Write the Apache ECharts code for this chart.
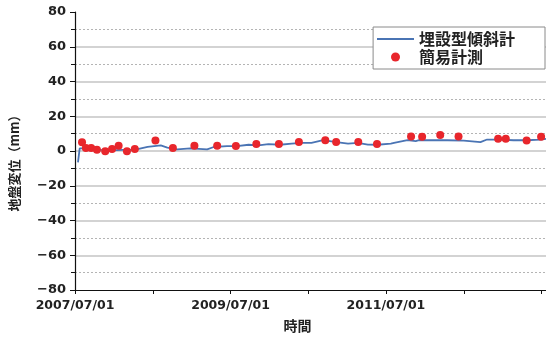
<!DOCTYPE html>
<html>
<head>
<meta charset="utf-8">
<script src="https://cdn.jsdelivr.net/npm/echarts@6/dist/echarts.min.js"></script>
<style>
html,body{margin:0;padding:0;background:#fff;}
#chart{width:546px;height:338px;}
</style>
</head>
<body>
<div id="chart"></div>
<script>
// ---- data ----
const seriesNames = ['埋設型傾斜計', '簡易計測'];
const yTicks = [-80, -60, -40, -20, 0, 20, 40, 60, 80];
const xTickDates = ['2007-07-01', '2008-07-01', '2009-07-01', '2010-07-01', '2011-07-01', '2012-07-01', '2013-07-01'];
const xLabelDates = ['2007-07-01', '2009-07-01', '2011-07-01'];

const lineDates = ['2007-07-15','2007-07-23','2007-08-31','2007-11-01','2007-12-17','2008-02-10','2008-04-05','2008-06-06','2008-08-07','2008-09-07','2008-10-23','2008-12-24','2009-03-13','2009-04-13','2009-06-14','2009-07-31','2009-09-24','2009-11-09','2009-12-26','2010-02-18','2010-04-14','2010-05-30','2010-07-16','2010-09-09','2010-11-10','2011-01-04','2011-02-19','2011-04-07','2011-05-23','2011-07-24','2011-08-08','2011-10-10','2011-11-18','2011-12-03','2012-01-27','2012-04-14','2012-07-01','2012-09-17','2012-10-18','2012-12-19','2013-02-19','2013-04-23','2013-06-24','2013-07-22'];
const lineValues = [-6.6,1.5,1.5,0.6,0.4,0.6,0.6,2.4,3.2,1.9,0.9,1.5,0.9,2.3,2.8,2.8,3.6,3.2,4.0,3.6,4.3,4.7,4.7,6.2,5.1,4.3,4.7,3.7,3.6,4.3,4.7,6.2,5.7,6.2,6.2,6.2,6.0,5.1,6.6,6.6,6.2,6.2,6.6,7.0];

const dotDates = ['2007-08-03','2007-08-21','2007-09-15','2007-10-12','2007-11-20','2007-12-22','2008-01-22','2008-03-01','2008-04-07','2008-07-13','2008-10-03','2009-01-12','2009-04-29','2009-07-26','2009-10-30','2010-02-13','2010-05-18','2010-09-19','2010-11-09','2011-02-21','2011-05-20','2011-10-27','2011-12-18','2012-03-12','2012-06-06','2012-12-09','2013-01-14','2013-04-22','2013-06-29'];
const dotValues = [5.1,1.7,1.7,0.7,-0.2,1.1,3.0,-0.2,1.1,6.0,1.7,3.0,3.0,2.9,4.0,4.0,5.2,6.2,5.2,5.2,4.0,8.4,8.2,9.2,8.4,7.0,7.0,6.1,8.2];

// ---- chart ----
function toTime(s){ const p = s.split('-'); return Date.UTC(+p[0], +p[1]-1, +p[2]); }
function fmt(v){
  const d = new Date(v);
  const pad = n => (n < 10 ? '0' : '') + n;
  return d.getUTCFullYear() + '/' + pad(d.getUTCMonth()+1) + '/' + pad(d.getUTCDate());
}
const chart = echarts.init(document.getElementById('chart'), null, {renderer:'canvas'});
const numFont = 'DejaVu Sans';
const jpFont = 'Noto Sans CJK JP';
chart.setOption({
  animation: false,
  backgroundColor: '#fff',
  grid: {left: 72, right: 0, top: 12, bottom: 44, containLabel: false},
  legend: {
    orient: 'vertical', right: 1, top: 27,
    backgroundColor: '#fff', borderColor: '#8a8a8a', borderWidth: 1,
    padding: [4, 30, 4, 3],
    itemWidth: 37, itemHeight: 9, itemGap: 2,
    textStyle: {fontFamily: jpFont, fontSize: 16, fontWeight: 'bold', color: '#222', lineHeight: 16},
    data: [
      {name: seriesNames[0], itemStyle: {opacity: 0}, lineStyle: {color: '#4a74b4', width: 1.8}},
      {name: seriesNames[1], icon: 'circle'}
    ]
  },
  xAxis: {
    type: 'value',
    min: toTime('2007-07-01'), max: toTime('2013-07-22'),
    name: '時間', nameLocation: 'middle', nameGap: 29,
    nameTextStyle: {fontFamily: jpFont, fontSize: 14, fontWeight: 'bold', color: '#222', padding: [0, 26, 0, 0]},
    axisLine: {show: true, onZero: false, lineStyle: {color: '#111', width: 1.2}},
    axisTick: {show: true, length: 4, lineStyle: {color: '#111'}, customValues: xTickDates.map(toTime)},
    axisLabel: {
      show: true, margin: 9, color: '#222', fontFamily: numFont, fontSize: 12.5, fontWeight: 'bold',
      customValues: xLabelDates.map(toTime),
      formatter: v => fmt(v)
    },
    splitLine: {show: false}
  },
  yAxis: {
    type: 'value', min: yTicks[0], max: yTicks[yTicks.length-1], interval: 20,
    name: '地盤変位（mm）', nameLocation: 'middle', nameGap: 54, nameRotate: 90,
    nameTextStyle: {fontFamily: jpFont, fontSize: 13, fontWeight: 'bold', color: '#222', padding: [0, 18, 0, 0]},
    axisLine: {show: true, onZero: false, lineStyle: {color: '#111', width: 1.2}},
    axisTick: {show: true, length: 5, lineStyle: {color: '#111'}},
    minorTick: {show: true, splitNumber: 2, length: 4, lineStyle: {color: '#111'}},
    axisLabel: {margin: 9, color: '#222', fontFamily: numFont, fontSize: 13, fontWeight: 'bold',
      formatter: v => String(v).replace('-', '−')},
    splitLine: {show: true, showMinLine: false, showMaxLine: false, lineStyle: {color: '#c4c4c4', width: 1.6, type: 'solid'}},
    minorSplitLine: {show: true, lineStyle: {color: '#b4b4b4', width: 1, type: [2, 2]}}
  },
  series: [
    {
      name: seriesNames[0], type: 'line', symbol: 'none', showSymbol: false,
      lineStyle: {color: '#4a74b4', width: 1.8}, itemStyle: {color: '#4a74b4'},
      data: lineDates.map((d, i) => [toTime(d), lineValues[i]]), z: 3
    },
    {
      name: seriesNames[1], type: 'scatter', symbol: 'circle', symbolSize: 8,
      itemStyle: {color: '#e8262c', opacity: 1},
      data: dotDates.map((d, i) => [toTime(d), dotValues[i]]), z: 4
    }
  ]
});
</script>
</body>
</html>
